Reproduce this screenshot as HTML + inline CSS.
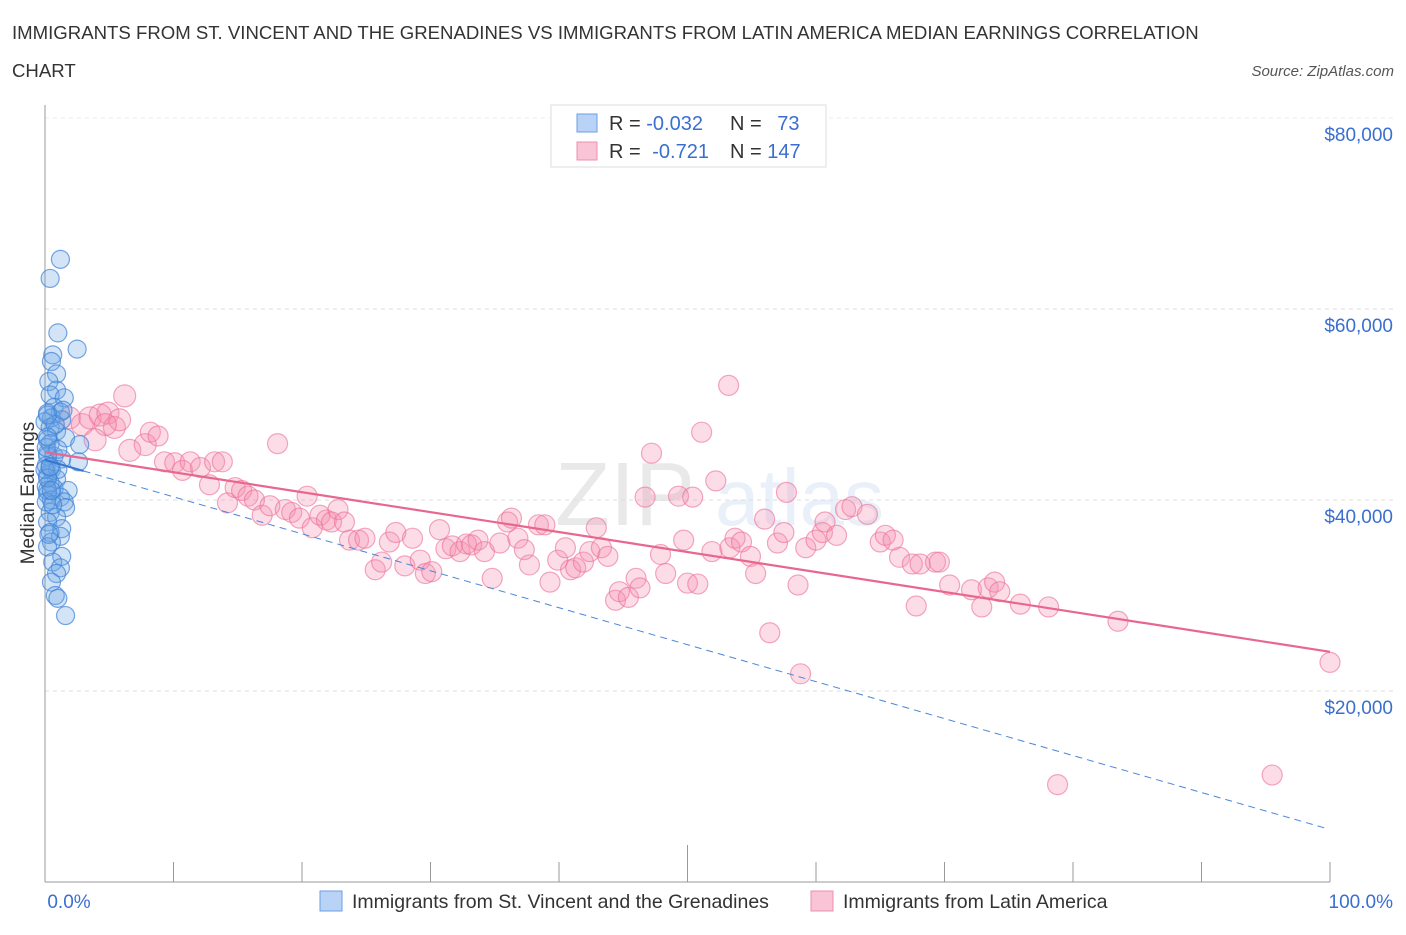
<!DOCTYPE html>
<html><head><meta charset="utf-8"><style>
body{margin:0;background:#fff;font-family:"Liberation Sans",sans-serif;}
svg text{font-family:"Liberation Sans",sans-serif;}
</style></head><body>
<svg id="chart" width="1406" height="930" xmlns="http://www.w3.org/2000/svg">
<text x="12" y="39" font-size="18.6" fill="#333">IMMIGRANTS FROM ST. VINCENT AND THE GRENADINES VS IMMIGRANTS FROM LATIN AMERICA MEDIAN EARNINGS CORRELATION</text>
<text x="12" y="77" font-size="18.6" fill="#333">CHART</text>
<text x="1394" y="76" font-size="15" fill="#555" text-anchor="end" font-style="italic">Source: ZipAtlas.com</text>
<g opacity="0.18">
<text x="555" y="525" font-size="90" font-family="Liberation Serif" fill="#888">ZIP</text>
<text x="715" y="525" font-size="80" fill="#8ab0e0">atlas</text>
</g>
<g id="grid"></g>
<g id="axes"></g>
<g id="marks"></g>
<g>
<rect x="551" y="105" width="275" height="62" fill="#fff" stroke="#ddd"/>
<rect x="577" y="114" width="20" height="18" fill="#b9d3f7" stroke="#6a9fe0"/>
<text x="609" y="130" font-size="20" fill="#333">R = <tspan fill="#3a6fd0">-0.032</tspan></text>
<text x="730" y="130" font-size="20" fill="#333">N = <tspan fill="#3a6fd0" dx="10">73</tspan></text>
<rect x="577" y="142" width="20" height="18" fill="#f9c4d5" stroke="#ec8fae"/>
<text x="609" y="158" font-size="20" fill="#333">R = <tspan fill="#3a6fd0" dx="6">-0.721</tspan></text>
<text x="730" y="158" font-size="20" fill="#333">N = <tspan fill="#3a6fd0">147</tspan></text>
</g>
<g>
<rect x="320" y="891" width="22" height="20" fill="#b9d3f7" stroke="#6a9fe0"/>
<text x="352" y="908" font-size="19.5" fill="#333">Immigrants from St. Vincent and the Grenadines</text>
<rect x="811" y="891" width="22" height="20" fill="#f9c4d5" stroke="#ec8fae"/>
<text x="843" y="908" font-size="19.5" fill="#333">Immigrants from Latin America</text>
</g>
<text transform="translate(34,493) rotate(-90)" font-size="19" fill="#333" text-anchor="middle">Median Earnings</text>
</svg>
<script>
const yTicks=[20000,40000,60000,80000];
const yTickLabels=["$20,000","$40,000","$60,000","$80,000"];
const xTickLabels=["0.0%","100.0%"];
const blueX=[1.2,0.4,1,2.5,0.6,0.5,0.9,0.3,0.9,0.4,1.5,0.7,1.2,0.2,0.5,1.3,0,0.4,0.9,1.6,2.7,0.2,0.7,1.3,2.6,0.1,0.5,0.2,0.9,0.4,0.1,0.7,1.8,0.2,1.2,0.5,1.5,1.6,0.4,0.9,0.2,1.3,0.4,1.2,0.5,0.2,1.3,0.6,1.2,0.9,0.5,0.8,1,1.6,0.2,0.4,0.2,0.4,0.2,0.1,0.3,1,0.8,0,0.2,0.6,0.2,0.4,0.1,0.5,1,1.4,0.2];
const blueY=[65.2,63.2,57.5,55.8,55.2,54.5,53.2,52.4,51.5,51,50.7,49.7,49.2,49.1,48.6,48.4,48.2,47.6,47.2,46.5,45.8,44.9,44.6,44.3,44,43.6,43.2,42.6,42.2,41.8,41.4,41.2,41,40.6,40.3,40,39.8,39.2,38.7,38.2,37.7,37,36.6,36.2,35.6,35.1,34.1,33.5,32.9,32.3,31.4,30,29.7,27.9,46.3,45.9,44.6,43.4,41,39.8,36.4,43.2,47.9,43.2,42.3,39.5,48.9,43.5,45.5,41,45.3,49.4,46.6];
const pinkX=[1.9,2.9,3.5,4.3,4.9,5.4,6.2,5.8,4.7,3.9,6.6,7.8,8.2,8.8,9.3,10.1,10.7,11.3,12.1,12.8,13.2,13.8,14.2,14.8,15.3,15.8,16.3,16.9,17.5,18.1,18.7,19.2,19.8,20.4,20.8,21.4,21.9,22.3,22.8,23.3,23.7,24.4,24.9,25.7,26.2,26.8,27.3,28.0,28.6,29.2,29.6,30.1,30.7,31.2,31.7,32.3,32.8,33.2,33.7,34.2,34.8,35.4,36.0,36.3,36.8,37.3,37.7,38.4,38.9,39.3,39.9,40.5,40.9,41.3,41.9,42.4,42.9,43.3,43.8,44.4,44.7,45.4,46.0,46.3,46.7,47.2,47.9,48.3,49.3,49.7,50.0,50.4,50.8,51.1,51.9,52.2,53.2,53.3,53.7,54.2,54.9,55.3,56.0,56.4,57.0,57.5,57.7,58.6,58.8,59.2,60.0,60.5,60.7,61.6,62.3,62.8,64.0,65.0,65.4,66.0,66.5,67.5,67.8,68.1,69.3,69.6,70.4,72.1,72.9,73.4,73.9,74.3,75.9,78.1,78.8,83.5,95.5,100.0];
const pinkY=[48.6,47.9,48.6,48.9,49.1,47.6,50.9,48.4,47.9,46.3,45.2,45.8,47.1,46.7,44.0,43.9,43.1,44.0,43.4,41.6,44.0,44.0,39.7,41.3,41.0,40.4,40.0,38.4,39.4,45.9,39.0,38.7,38.1,40.4,37.1,38.4,37.9,37.7,39.0,37.7,35.8,35.8,36.0,32.7,33.5,35.6,36.6,33.1,36.0,33.7,32.3,32.5,36.9,34.9,35.2,34.6,35.4,35.3,35.8,34.6,31.8,35.5,37.7,38.1,36.0,34.8,33.2,37.4,37.4,31.4,33.7,35.0,32.7,32.9,33.5,34.6,37.1,35.0,34.1,29.5,30.4,29.8,31.8,30.8,40.3,44.9,34.3,32.3,40.4,35.8,31.3,40.3,31.2,47.1,34.6,42.0,52.0,35.0,36.0,35.6,34.1,32.3,38.0,26.1,35.5,36.6,40.8,31.1,21.8,35.0,35.8,36.6,37.7,36.3,39.0,39.3,38.5,35.6,36.3,35.8,34.0,33.3,28.9,33.3,33.5,33.5,31.1,30.6,28.8,30.8,31.4,30.4,29.1,28.8,10.2,27.3,11.2,23.0];
const pinkTrend=[45.0,24.1];
const blueTrend=[44.2,5.5];
const blueSolidEnd=3;

const X0=45,X1=1330,YB=882,PX=9.55;
const xs=v=>X0+(X1-X0)*v/100;
const ys=v=>YB-v*PX;
const NS="http://www.w3.org/2000/svg";
function mk(tag,attrs,parent){const e=document.createElementNS(NS,tag);for(const k in attrs)e.setAttribute(k,attrs[k]);parent.appendChild(e);return e;}
const grid=document.getElementById('grid'),axes=document.getElementById('axes'),marks=document.getElementById('marks');
yTicks.forEach((t,i)=>{
 const y=ys(t/1000);
 const l=mk('line',{x1:X0,x2:1395,y1:y,y2:y,stroke:'#ddd','stroke-dasharray':'4,4'},grid);
 
 
 const tx=mk('text',{x:1393,y:y+23,'font-size':19,fill:'#3a6fd0','text-anchor':'end'},axes);
 tx.textContent=yTickLabels[i];
 
 
});
const tg=mk('line',{x1:X0,x2:1395,y1:118,y2:118,stroke:'#eee','stroke-dasharray':'4,4'},grid);


const ya=mk('line',{x1:X0,x2:X0,y1:105,y2:YB,stroke:'#999'},axes);


const xa=mk('line',{x1:X0,x2:X1,y1:YB,y2:YB,stroke:'#999'},axes);


for(let i=0;i<=10;i++){
 const x=xs(i*10);
 const t=mk('line',{x1:x,x2:x,y1:i==5?845:862,y2:YB,stroke:'#999'},axes);
 
 
}
const xl0=mk('text',{x:X0+24,y:908,'font-size':19,fill:'#3a6fd0','text-anchor':'middle'},axes);xl0.textContent=xTickLabels[0];


const xl1=mk('text',{x:1393,y:908,'font-size':19,fill:'#3a6fd0','text-anchor':'end'},axes);xl1.textContent=xTickLabels[1];


pinkX.forEach((v,i)=>{
 const r=(i<12)?11:10;
 const c=mk('circle',{cx:xs(v),cy:ys(pinkY[i]),r:r,fill:'rgba(244,143,177,0.3)',stroke:'rgba(236,110,150,0.6)','stroke-width':1.2},marks);
 
 
});
blueX.forEach((v,i)=>{
 const c=mk('circle',{cx:xs(v),cy:ys(blueY[i]),r:9,fill:'rgba(110,165,230,0.3)',stroke:'rgba(60,130,215,0.7)','stroke-width':1.2},marks);
 
 
});
const bAt=p=>blueTrend[0]+(blueTrend[1]-blueTrend[0])*p/100;
const bd=mk('line',{x1:xs(blueSolidEnd),y1:ys(bAt(blueSolidEnd)),x2:xs(99.6),y2:ys(bAt(99.6)),stroke:'#4a86d8','stroke-width':1,'stroke-dasharray':'7,5'},marks);


const bs=mk('line',{x1:xs(0),y1:ys(bAt(0)),x2:xs(blueSolidEnd),y2:ys(bAt(blueSolidEnd)),stroke:'#3a76d0','stroke-width':2},marks);


const pt=mk('line',{x1:xs(0),y1:ys(pinkTrend[0]),x2:xs(100),y2:ys(pinkTrend[1]),stroke:'#e8678f','stroke-width':2.2},marks);


</script>
</body></html>
